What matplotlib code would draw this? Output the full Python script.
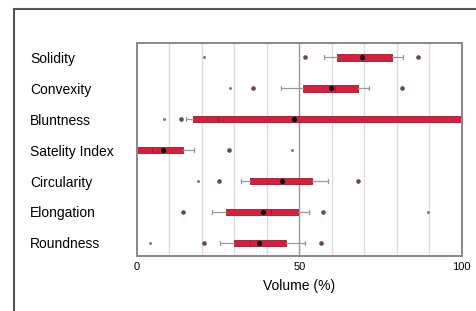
import matplotlib
matplotlib.use("Agg")
import matplotlib.pyplot as plt
from matplotlib.patches import Rectangle

plt.rcParams["font.family"] = ["Liberation Sans", "DejaVu Sans"]

# данные (Volume, %)
labels = ["Solidity", "Convexity", "Bluntness", "Satelity Index",
          "Circularity", "Elongation", "Roundness"]
q1 = [61.7, 51.1, 17.2, 0.0, 34.7, 27.3, 29.8]
med = [69.4, 60.9, 24.9, 4.8, 44.7, 41.3, 34.7]
q3 = [78.6, 68.1, 101.0, 14.1, 53.9, 49.6, 45.8]
whislo = [57.6, 44.5, 15.0, 0.0, 32.1, 23.0, 25.6]
whishi = [81.8, 71.4, 101.0, 17.7, 58.8, 52.9, 51.9]
means = [69.4, 59.6, 48.3, 7.9, 44.7, 38.8, 37.7]
fliers = [[51.6, 86.4], [35.7, 81.5], [13.6], [28.2],
          [25.4, 68.1], [14.3, 57.3], [20.7, 56.6]]
extremes = [[20.8], [28.7], [8.2], [47.7], [18.9], [89.5], [4.1]]

box_color = "#d81e3c"
edge_color = "#9a1a2c"

stats = []
for i in range(len(labels)):
    stats.append(dict(label=labels[i], q1=q1[i], med=med[i], q3=q3[i],
                      whislo=whislo[i], whishi=whishi[i], mean=means[i],
                      fliers=fliers[i]))

fig = plt.figure(figsize=(4.77, 3.11), dpi=100)
ax = fig.add_axes([0.287, 0.177, 0.681, 0.686])

pos = list(range(1, len(labels) + 1))
ax.bxp(stats, positions=pos, vert=False, widths=0.22, patch_artist=True,
       showmeans=True, showcaps=True,
       boxprops=dict(facecolor=box_color, edgecolor=edge_color, linewidth=0.6),
       medianprops=dict(color=edge_color, linewidth=0.6),
       whiskerprops=dict(color="#999999", linewidth=0.9),
       capprops=dict(color="#999999", linewidth=0.9),
       meanprops=dict(marker="o", markerfacecolor="black", markeredgecolor="black",
                      markersize=2.6),
       flierprops=dict(marker="o", markerfacecolor="#6b4a4a", markeredgecolor="#6b4a4a",
                       markersize=2.3))

for i, xs in enumerate(extremes):
    ax.plot(xs, [pos[i]] * len(xs), "o", color="#8a7a7a", markersize=1.2, zorder=3)

ax.set_xlim(0, 100)
ax.set_ylim(7.42, 0.53)
for v in range(10, 100, 10):
    ax.axvline(v, color="#999999" if v == 50 else "#dddddd", linewidth=1.0, zorder=0)

ax.set_xticks([0, 50, 100])
ax.tick_params(axis="x", length=0, labelsize=8, pad=4.5)
ax.set_xlabel("Volume (%)", fontsize=10, labelpad=5)
ax.set_yticks(pos)
ax.set_yticklabels(labels, fontsize=10, ha="left")
ax.tick_params(axis="y", length=0, pad=77)
for s in ax.spines.values():
    s.set_color("#888888")
    s.set_linewidth(1.4)

# внешняя рамка
fig.patches.append(Rectangle((14 / 477, -0.1), 1.2, 1.1 - 9 / 311,
                             transform=fig.transFigure, fill=False,
                             edgecolor="#555555", linewidth=1.5))

fig.savefig("out.png", dpi=100)
